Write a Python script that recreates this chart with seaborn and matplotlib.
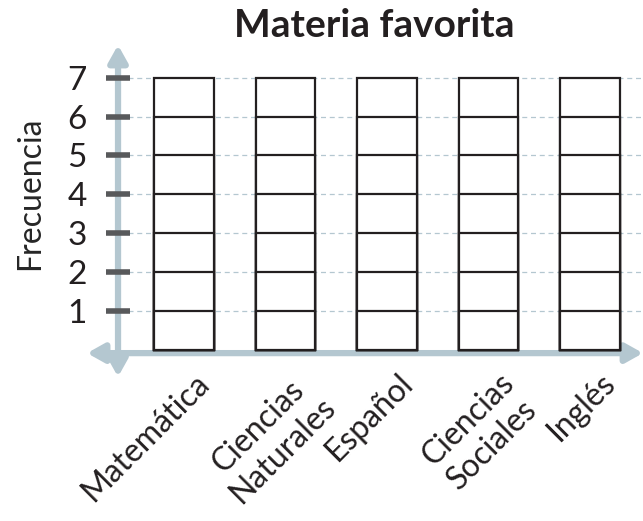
import pandas as pd
import seaborn as sns
import matplotlib.pyplot as plt
from matplotlib.transforms import ScaledTranslation

materias = ["Matemática", "Ciencias\nNaturales", "Español", "Ciencias\nSociales", "Inglés"]
casillas = [7, 7, 7, 7, 7]
niveles = [1, 2, 3, 4, 5, 6, 7]

axis_color = "#b4c7d0"
tick_color = "#58595b"
ink = "#231f20"

sns.set_style("white")
plt.rcParams["font.family"] = ["Lato", "DejaVu Sans"]
plt.rcParams["text.color"] = ink
plt.rcParams["xtick.color"] = ink
plt.rcParams["ytick.color"] = ink

fig = plt.figure(figsize=(6.43, 5.21), dpi=100)
ax = fig.add_axes([80 / 643, 1 - 380 / 521, 563 / 643, 340 / 521])
ax.set_axisbelow(False)

# empty boxes: draw tallest first, shorter ones on top give the inner lines
for k in sorted(niveles, reverse=True):
    df = pd.DataFrame({"materia": materias,
                       "valor": [min(c, k) for c in casillas]})
    sns.barplot(data=df, x="materia", y="valor", order=materias, color="white",
                edgecolor=ink, linewidth=1.6, width=0.59, saturation=1,
                errorbar=None, ax=ax, zorder=2)

ax.hlines(niveles, -0.55, 4.5, colors=axis_color, linestyles=(0, (4, 3)),
          linewidth=0.9, zorder=1)

ax.set_xlim(-1.0246, 4.522)
ax.set_ylim(-0.771, 7.969)
for s in ax.spines.values():
    s.set_visible(False)
ax.spines["left"].set_position(("data", -0.65))

# axis arrows
style = "<|-|>,head_length=0.5,head_width=0.28"
ax.annotate("", xy=(4.522, -0.08), xytext=(-0.955, -0.08),
            arrowprops=dict(arrowstyle=style, color=axis_color, lw=4.5,
                            mutation_scale=20, shrinkA=0, shrinkB=0), zorder=1.5)
ax.annotate("", xy=(-0.65, 7.84), xytext=(-0.65, -0.69),
            arrowprops=dict(arrowstyle=style, color=axis_color, lw=4.5,
                            mutation_scale=20, shrinkA=0, shrinkB=0), zorder=1.5)

ax.set_yticks(niveles)
ax.set_yticklabels([str(n) for n in niveles], fontsize=24)
ax.tick_params(axis="y", length=17, width=4, color=tick_color,
               direction="inout", pad=14, left=True)

ax.set_xticks(range(len(materias)))
ax.set_xticklabels(materias, rotation=45, ha="right", va="top",
                   rotation_mode="anchor", fontsize=23,
                   multialignment="center")
ax.tick_params(axis="x", length=0, pad=0)
shift = ScaledTranslation(0.1, 0.12, fig.dpi_scale_trans)
for lab in ax.get_xticklabels():
    lab.set_transform(lab.get_transform() + shift)

ax.set_xlabel("")
ax.set_ylabel("Frecuencia", fontsize=23, labelpad=14)
ax.yaxis.set_label_coords(-0.062, 0.55)

fig.suptitle("Materia favorita", fontsize=28, fontweight="bold", x=0.582, y=0.985)

fig.savefig("out.png", dpi=100)
